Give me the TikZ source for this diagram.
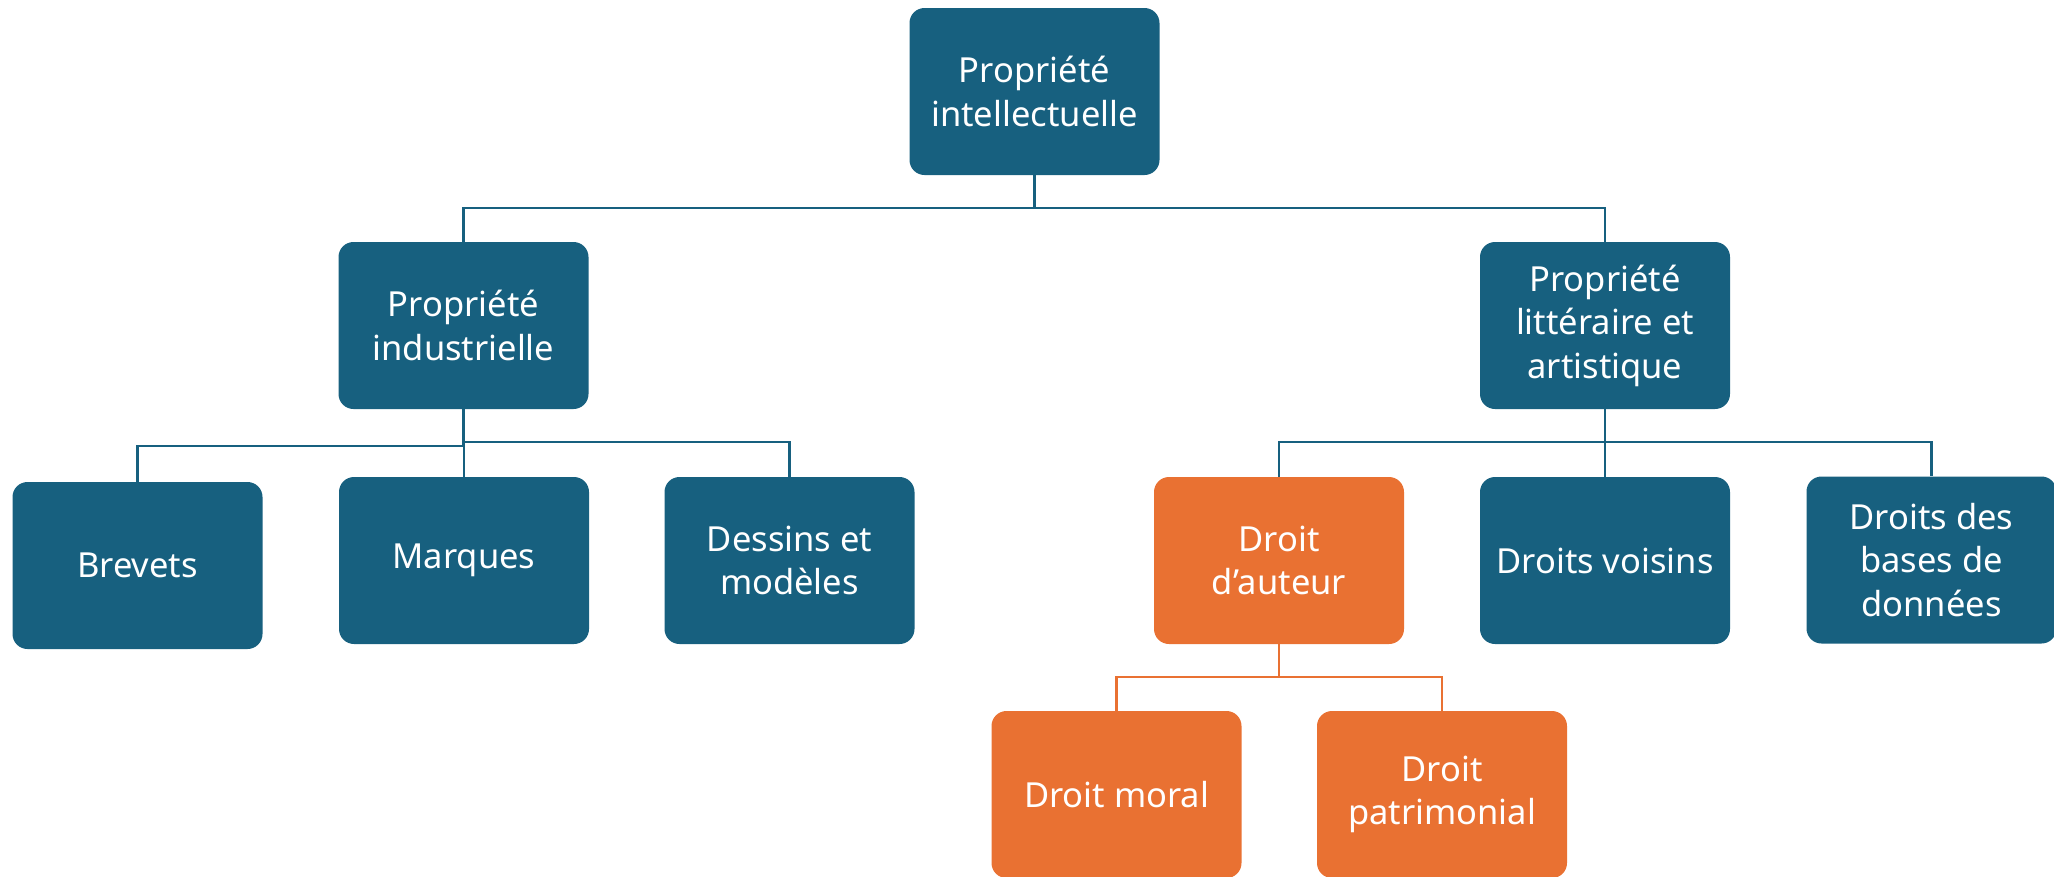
\documentclass[tikz,border=0pt]{standalone}
\usepackage{fontspec}
\setmainfont{Noto Sans}
\definecolor{bluebox}{HTML}{17607F}
\definecolor{orangebox}{HTML}{E97132}
\tikzset{
  box/.style={rectangle, rounded corners=15pt, minimum width=250pt, minimum height=167pt,
    inner sep=0pt, align=center, text=white, font=\fontsize{34.5}{43.5}\selectfont},
  bluenode/.style={box, fill=bluebox},
  orangenode/.style={box, fill=orangebox},
  blueline/.style={draw=bluebox, line width=2.6pt},
  orangeline/.style={draw=orangebox, line width=2.6pt},
}
\begin{document}
\begin{tikzpicture}[x=1pt,y=-1pt]
\useasboundingbox (0,0) rectangle (2054,876);
\node[bluenode] (top) at (1034.5,91.5) {Propriété\\intellectuelle};
\node[bluenode] (pi) at (463.5,325.5) {Propriété\\industrielle};
\node[bluenode] (pla) at (1605,325.5) {Propriété\\littéraire et\\artistique};
\node[bluenode] (brevets) at (137.5,565.5) {Brevets};
\node[bluenode] (marques) at (464,560.5) {Marques};
\node[bluenode] (dessins) at (789.5,560.5) {Dessins et\\modèles};
\node[orangenode] (auteur) at (1279,560.5) {Droit\\d’auteur};
\node[bluenode] (voisins) at (1605,560.5) {Droits voisins};
\node[bluenode] (bases) at (1931.5,560) {Droits des\\bases de\\données};
\node[orangenode] (moral) at (1116.5,794.5) {Droit moral};
\node[orangenode] (patri) at (1442,794.5) {Droit\\patrimonial};
\coordinate (bus1) at (0,208);
\coordinate (bus2) at (0,442);
\coordinate (bus2b) at (0,446);
\coordinate (bus3) at (0,677);
\draw[blueline] (top.south) -- (top.south |- bus1) -| (pi.north);
\draw[blueline] (top.south |- bus1) -| (pla.north);
\draw[blueline] (pi.south) -- (pi.south |- bus2b) -| (brevets.north);
\draw[blueline] (pi.south |- bus2) -| (marques.north);
\draw[blueline] (pi.south |- bus2) -| (dessins.north);
\draw[blueline] (pla.south) -- (pla.south |- bus2) -| (auteur.north);
\draw[blueline] (pla.south |- bus2) -| (voisins.north);
\draw[blueline] (pla.south |- bus2) -| (bases.north);
\draw[orangeline] (auteur.south) -- (auteur.south |- bus3) -| (moral.north);
\draw[orangeline] (auteur.south |- bus3) -| (patri.north);
\end{tikzpicture}
\end{document}
